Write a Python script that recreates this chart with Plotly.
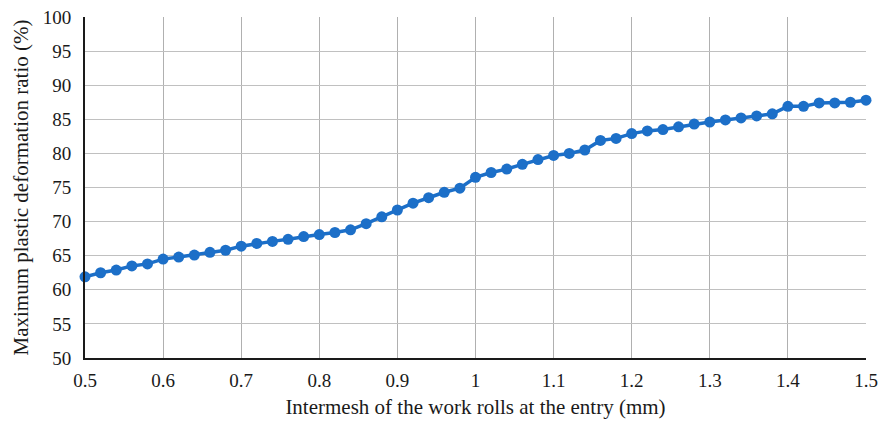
import plotly.graph_objects as go

# Intermesh of the work rolls at the entry (mm)
intermesh = [round(0.5 + 0.02 * i, 2) for i in range(51)]

# Maximum plastic deformation ratio (%)
deformation = [
    61.9, 62.5, 62.9, 63.5, 63.8, 64.5, 64.8, 65.1, 65.5, 65.8,
    66.4, 66.8, 67.1, 67.4, 67.8, 68.1, 68.4, 68.8, 69.7, 70.7,
    71.7, 72.7, 73.5, 74.3, 74.9, 76.5, 77.2, 77.7, 78.4, 79.1,
    79.7, 80.0, 80.5, 81.9, 82.2, 82.9, 83.3, 83.5, 83.9, 84.3,
    84.6, 84.9, 85.2, 85.5, 85.8, 86.9, 86.9, 87.4, 87.4, 87.5,
    87.8,
]

x_ticks = [0.5, 0.6, 0.7, 0.8, 0.9, 1.0, 1.1, 1.2, 1.3, 1.4, 1.5]
x_tick_labels = ["0.5", "0.6", "0.7", "0.8", "0.9", "1", "1.1", "1.2", "1.3", "1.4", "1.5"]
y_ticks = [50, 55, 60, 65, 70, 75, 80, 85, 90, 95, 100]

blue = "#1c6fc8"
font_family = "Liberation Serif, Times New Roman, serif"

fig = go.Figure(
    go.Scatter(
        x=intermesh,
        y=deformation,
        mode="lines+markers",
        line=dict(color=blue, width=3.5),
        marker=dict(color=blue, size=11),
        cliponaxis=False,
        showlegend=False,
    )
)

fig.update_layout(
    width=879,
    height=423,
    margin=dict(l=85, r=13, t=17, b=65),
    paper_bgcolor="white",
    plot_bgcolor="white",
    font=dict(family=font_family, size=18, color="#1a1a1a"),
)

fig.update_xaxes(
    range=[0.5, 1.5],
    tickvals=x_ticks,
    ticktext=x_tick_labels,
    showgrid=True,
    gridcolor="#b0b0b0",
    gridwidth=1,
    showline=True,
    linecolor="#1a1a1a",
    linewidth=2,
    ticks="",
    tickfont=dict(size=19),
    ticklabelstandoff=4,
    zeroline=False,
    automargin=False,
    title=dict(text="Intermesh of the work rolls at the entry (mm)", font=dict(size=21), standoff=10),
)

fig.update_yaxes(
    range=[50, 100],
    tickvals=y_ticks,
    showgrid=True,
    gridcolor="#c0c0c0",
    gridwidth=1,
    showline=True,
    linecolor="#1a1a1a",
    linewidth=2,
    ticks="",
    tickfont=dict(size=19),
    ticklabelstandoff=8,
    zeroline=False,
    automargin=False,
    title=dict(text="Maximum plastic deformation ratio (%)", font=dict(size=21), standoff=8),
)

fig.write_html("out.html")
